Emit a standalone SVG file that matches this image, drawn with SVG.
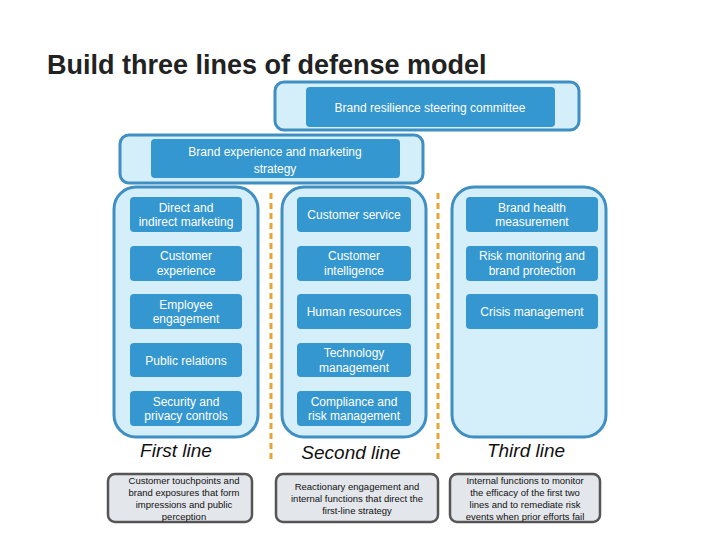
<svg xmlns="http://www.w3.org/2000/svg" width="720" height="540" viewBox="0 0 720 540">
<style>
text{font-family:"Liberation Sans",Arial,sans-serif}
.o{fill:#d4eefa;stroke:#3f8fc2;stroke-width:3}
.n{fill:#3597cf}
.t{fill:#fff;font-size:12px;text-anchor:middle}
.l{fill:#111;font-size:19px;font-style:italic;text-anchor:middle}
.g{fill:#e3e6ea;stroke:#555;stroke-width:2.5}
.s{fill:#111;font-size:9.5px;text-anchor:middle}
.d{stroke:#e8a534;stroke-width:3;stroke-dasharray:6,4}
</style>
<rect width="720" height="540" fill="#fff"/>
<text x="47" y="74" font-size="27" font-weight="bold" fill="#222">Build three lines of defense model</text>
<g id="steering"><rect class="o" x="275" y="82" width="304" height="48" rx="9"/><rect class="n" x="306" y="87" width="249" height="40" rx="4"/><text class="t" x="430" y="112" font-size="13">Brand resilience steering committee</text></g>
<g id="strategy"><rect class="o" x="120" y="135" width="303" height="48" rx="9"/><rect class="n" x="151" y="139" width="249" height="39" rx="4"/><text class="t" x="275" y="156" font-size="13">Brand experience and marketing</text><text class="t" x="275" y="173" font-size="13">strategy</text></g>
<g id="connectors"><line class="d" x1="271" y1="193" x2="271" y2="462"/><line class="d" x1="438" y1="193" x2="438" y2="462"/></g>
<g id="col1"><rect class="o" x="114" y="187" width="144" height="250" rx="22"/>
<rect class="n" x="130" y="197" width="112" height="35" rx="4"/><text class="t" x="186" y="212">Direct and</text><text class="t" x="186" y="226">indirect marketing</text>
<rect class="n" x="130" y="246" width="112" height="35" rx="4"/><text class="t" x="186" y="260">Customer</text><text class="t" x="186" y="275">experience</text>
<rect class="n" x="130" y="294" width="112" height="35" rx="4"/><text class="t" x="186" y="309">Employee</text><text class="t" x="186" y="323">engagement</text>
<rect class="n" x="130" y="343" width="112" height="34" rx="4"/><text class="t" x="186" y="365">Public relations</text>
<rect class="n" x="130" y="391" width="112" height="35" rx="4"/><text class="t" x="186" y="406">Security and</text><text class="t" x="186" y="420">privacy controls</text></g>
<g id="col2"><rect class="o" x="282" y="187" width="144" height="250" rx="22"/>
<rect class="n" x="297" y="197" width="114" height="35" rx="4"/><text class="t" x="354" y="219">Customer service</text>
<rect class="n" x="297" y="246" width="114" height="35" rx="4"/><text class="t" x="354" y="260">Customer</text><text class="t" x="354" y="275">intelligence</text>
<rect class="n" x="297" y="294" width="114" height="35" rx="4"/><text class="t" x="354" y="316">Human resources</text>
<rect class="n" x="297" y="343" width="114" height="34" rx="4"/><text class="t" x="354" y="357">Technology</text><text class="t" x="354" y="372">management</text>
<rect class="n" x="297" y="391" width="114" height="35" rx="4"/><text class="t" x="354" y="406">Compliance and</text><text class="t" x="354" y="420">risk management</text></g>
<g id="col3"><rect class="o" x="452" y="187" width="154" height="250" rx="22"/>
<rect class="n" x="466" y="197" width="132" height="35" rx="4"/><text class="t" x="532" y="212">Brand health</text><text class="t" x="532" y="226">measurement</text>
<rect class="n" x="466" y="246" width="132" height="35" rx="4"/><text class="t" x="532" y="260">Risk monitoring and</text><text class="t" x="532" y="275">brand protection</text>
<rect class="n" x="466" y="294" width="132" height="35" rx="4"/><text class="t" x="532" y="316">Crisis management</text></g>
<g id="labels"><text class="l" x="176" y="457">First line</text><text class="l" x="351" y="459">Second line</text><text class="l" x="526" y="457">Third line</text></g>
<g id="desc1"><rect class="g" x="108" y="474" width="144" height="48" rx="7"/><text class="s" x="184" y="484">Customer touchpoints and</text><text class="s" x="184" y="496">brand exposures that form</text><text class="s" x="184" y="508">impressions and public</text><text class="s" x="184" y="520">perception</text></g>
<g id="desc2"><rect class="g" x="276" y="474" width="162" height="48" rx="7"/><text class="s" x="357" y="490">Reactionary engagement and</text><text class="s" x="357" y="502">internal functions that direct the</text><text class="s" x="357" y="514">first-line strategy</text></g>
<g id="desc3"><rect class="g" x="450" y="474" width="150" height="48" rx="7"/><text class="s" x="525" y="484">Internal functions to monitor</text><text class="s" x="525" y="496">the efficacy of the first two</text><text class="s" x="525" y="508">lines and to remediate risk</text><text class="s" x="525" y="520">events when prior efforts fail</text></g>
</svg>
